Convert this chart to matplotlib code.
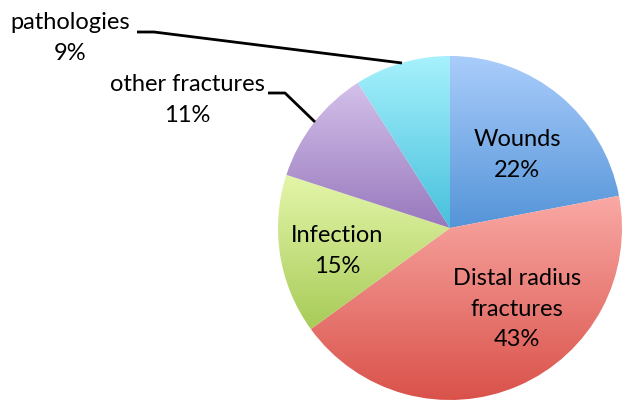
import matplotlib
matplotlib.use("Agg")
import matplotlib.pyplot as plt
import matplotlib.colors as mcolors
import numpy as np

plt.rcParams["font.family"] = ["Lato", "DejaVu Sans"]

# data
categories = ["Wounds", "Distal radius\nfractures", "Infection", "other fractures", "pathologies"]
shares = [22, 43, 15, 11, 9]
# gradient colours (top, bottom) for each slice
top_colors = ["#aacdfb", "#faa9a5", "#e4f6aa", "#d4c1ea", "#a6f1fc"]
bottom_colors = ["#5494d8", "#d9524a", "#a8cb58", "#9878bd", "#47c0dc"]

W, H = 622, 403
fig = plt.figure(figsize=(W / 100, H / 100), dpi=100)
ax = fig.add_axes([0, 0, 1, 1])

cx, cy, r = 450, H - 228, 172
wedges, _ = ax.pie(shares, startangle=90, counterclock=False,
                   center=(cx, cy), radius=r, frame=True,
                   wedgeprops=dict(linewidth=0))

grad = np.linspace(0, 1, 256).reshape(-1, 1)
for w, c0, c1 in zip(wedges, top_colors, bottom_colors):
    w.set_facecolor("none")
    # vertical extent of this slice
    t = np.radians(np.linspace(w.theta1, w.theta2, 200))
    ys = np.concatenate([[cy], cy + r * np.sin(t)])
    cmap = mcolors.LinearSegmentedColormap.from_list("g", [c1, c0])
    im = ax.imshow(grad, cmap=cmap, origin="lower", aspect="auto",
                   extent=[cx - r, cx + r, ys.min(), ys.max()],
                   interpolation="bilinear")
    im.set_clip_path(w)

ax.set_xlim(0, W)
ax.set_ylim(0, H)
ax.set_aspect("equal")
ax.axis("off")

fs = 17
ls = 1.55
# inside labels
inside = {0: (517, 155), 1: (517, 309), 2: (337, 251)}
for i, (x, y) in inside.items():
    ax.text(x, H - y, f"{categories[i]}\n{shares[i]}%", ha="center", va="center",
            fontsize=fs, linespacing=ls)

# outside labels with leader lines
ax.text(187, H - 100, f"{categories[3]}\n{shares[3]}%", ha="center", va="center",
        fontsize=fs, linespacing=ls)
ax.plot([268, 285, 315], [H - 93, H - 93, H - 122], color="black", lw=2,
        solid_capstyle="butt")

ax.text(70, H - 38, f"{categories[4]}\n{shares[4]}%", ha="center", va="center",
        fontsize=fs, linespacing=ls)
ax.plot([137, 154, 402], [H - 32, H - 32, H - 63], color="black", lw=2,
        solid_capstyle="butt")

fig.savefig("out.png", dpi=100)
